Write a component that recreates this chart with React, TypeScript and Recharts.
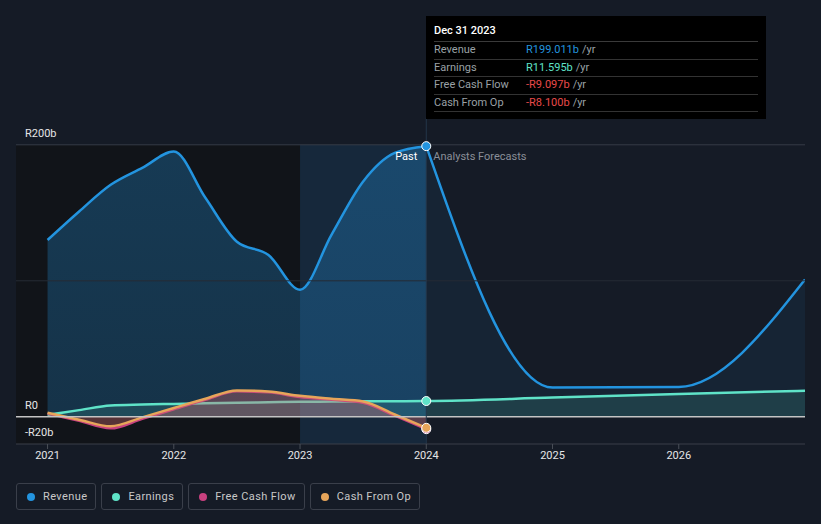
import {
  ComposedChart, Area, XAxis, YAxis, ReferenceArea, ReferenceLine, ReferenceDot,
} from 'recharts'

// ─── Data ─────────────────────────────────────────────────────────────────────

const pastX = [2021, 2021.25, 2021.5, 2021.75, 2022, 2022.25, 2022.5, 2022.75, 2023, 2023.25, 2023.5, 2023.75, 2024]
const revenuePast = [130, 151, 170.6, 183, 195, 161, 128.7, 119, 93.4, 134, 173, 194, 199.011]
const earningsPast = [1.5, 4.9, 8.3, 9, 9.5, 10, 10.4, 10.7, 11, 11.2, 11.4, 11.5, 11.595]
const fcfPast = [2.5, -3, -8.5, -1.5, 5.5, 12.5, 18.7, 18, 14.5, 12.5, 10.3, 0.8, -9.097]
const cfoPast = [3, -2.1, -7, -0.4, 6.5, 13.3, 19.4, 18.6, 15.4, 13.2, 11.3, 1.7, -8.1]

const forecastX = [2025, 2026, 2027]
const revenueForecast = [21.5, 22, 101]
const earningsForecast = [14.1, 16.7, 19.2]

const xTicks = [2021, 2022, 2023, 2024, 2025, 2026]
const yLabelValues = [-20, 0, 200]
const yLabels: Record<number, string> = { [-20]: '-R20b', 0: 'R0', 200: 'R200b' }

const TOOLTIP_ROWS = [
  { label: 'Revenue', value: 'R199.011b', color: '#2394df' },
  { label: 'Earnings', value: 'R11.595b', color: '#5fe3c8' },
  { label: 'Free Cash Flow', value: '-R9.097b', color: '#e84a4a' },
  { label: 'Cash From Op', value: '-R8.100b', color: '#e84a4a' },
]

const LEGEND = [
  { label: 'Revenue', color: '#2394df' },
  { label: 'Earnings', color: '#5fe3c8' },
  { label: 'Free Cash Flow', color: '#c8417f' },
  { label: 'Cash From Op', color: '#e6a55a' },
]

function buildRows() {
  const rows: Record<string, number>[] = pastX.map((x, i) => ({
    x,
    revPast: revenuePast[i],
    earn: earningsPast[i],
    fcf: fcfPast[i],
    cfo: cfoPast[i],
  }))
  rows[rows.length - 1].revFc = revenuePast[revenuePast.length - 1]
  forecastX.forEach((x, i) => {
    rows.push({ x, revFc: revenueForecast[i], earn: earningsForecast[i] })
  })
  return rows
}

const rows = buildRows()
const FONT = 'Roboto, "Open Sans", sans-serif'
const BG = '#151b26'

// ─── Pieces ───────────────────────────────────────────────────────────────────

// y-axis value label, drawn just above its gridline at the left edge
function yLabel(value: number) {
  // eslint-disable-next-line @typescript-eslint/no-explicit-any
  return (props: any) => (
    <text x={25} y={props.viewBox.y - 8} fill="#e6e6e6" fontSize={11} fontFamily={FONT}>
      {yLabels[value]}
    </text>
  )
}

// eslint-disable-next-line @typescript-eslint/no-explicit-any
function NowLabel(props: any) {
  const { viewBox } = props
  const x = viewBox.x
  const y = viewBox.y + 42
  return (
    <g fontFamily={FONT} fontSize={11}>
      <text x={x - 9} y={y} textAnchor="end" fill="#ffffff">Past</text>
      <text x={x + 7} y={y} fill="#8a8f98">Analysts Forecasts</text>
    </g>
  )
}

export default function App() {
  return (
    <div style={{ position: 'absolute', left: 0, top: 0, width: 821, height: 524, background: BG, fontFamily: FONT, overflow: 'hidden' }}>
      <ComposedChart width={821} height={524} data={rows}
        margin={{ top: 117.6, right: 16, bottom: 50, left: 16 }}>
        <defs>
          <linearGradient id="revPastFill" x1="0" y1="0" x2="0" y2="1">
            <stop offset="0%" stopColor="#2394df" stopOpacity={0.3} />
            <stop offset="100%" stopColor="#2394df" stopOpacity={0.24} />
          </linearGradient>
        </defs>

        <ReferenceArea x1={2020.75} x2={2023} y1={-20} y2={200} fill="#111419" fillOpacity={1} stroke="none" />
        <ReferenceArea x1={2023} x2={2024} y1={-20} y2={200} fill="#16283b" fillOpacity={1} stroke="none" />
        <ReferenceLine y={200} stroke="#363b46" />
        <ReferenceLine y={100} stroke="#262b35" />

        <XAxis dataKey="x" type="number" domain={[2020.75, 2027]} ticks={xTicks} allowDataOverflow
          tickFormatter={(v) => String(v)} height={30} tickSize={5}
          tick={{ fill: '#e6e6e6', fontSize: 11, fontFamily: FONT }}
          axisLine={{ stroke: '#3a3f48' }} tickLine={{ stroke: '#4a4f58' }} />
        <YAxis domain={[-20, 220]} hide allowDataOverflow />

        <Area type="monotone" dataKey="revPast" stroke="#2394df" strokeWidth={2.5} fill="url(#revPastFill)"
          fillOpacity={1} dot={false} activeDot={false} isAnimationActive={false} />
        <Area type="monotone" dataKey="revFc" stroke="#2394df" strokeWidth={2.5} fill="#2394df"
          fillOpacity={0.08} dot={false} activeDot={false} isAnimationActive={false} />
        <Area type="monotone" dataKey="earn" stroke="#5fe3c8" strokeWidth={2.5} fill="#5fe3c8"
          fillOpacity={0.14} dot={false} activeDot={false} isAnimationActive={false} />
        <Area type="monotone" dataKey="fcf" stroke="#c8417f" strokeWidth={2.5} fill="#c8417f"
          fillOpacity={0.25} dot={false} activeDot={false} isAnimationActive={false} />
        <Area type="monotone" dataKey="cfo" stroke="#e6a55a" strokeWidth={2.5} fill="#e6a55a"
          fillOpacity={0.15} dot={false} activeDot={false} isAnimationActive={false} />

        <ReferenceLine y={0} stroke="#c4c4c4" strokeWidth={1.5} />
        <ReferenceLine x={2024} stroke="#24364a" label={<NowLabel />} />
        {yLabelValues.map((v) => (
          <ReferenceLine key={v} y={v} stroke="none" label={yLabel(v)} />
        ))}

        <ReferenceDot x={2024} y={revenuePast[12]} r={4.5} fill="#2394df" stroke="#ffffff" strokeWidth={1} />
        <ReferenceDot x={2024} y={earningsPast[12]} r={4.5} fill="#5fe3c8" stroke="#ffffff" strokeWidth={1} />
        <ReferenceDot x={2024} y={fcfPast[12]} r={4.5} fill="#c8417f" stroke="#ffffff" strokeWidth={1} />
        <ReferenceDot x={2024} y={cfoPast[12]} r={4.5} fill="#e6a55a" stroke="#ffffff" strokeWidth={1} />
      </ComposedChart>

      {/* Tooltip box */}
      <div style={{ position: 'absolute', left: 426, top: 16, width: 340, height: 103, background: '#000',
        boxSizing: 'border-box', padding: '7px 8px 0 8px', fontSize: 11 }}>
        <div style={{ color: '#fff', fontWeight: 500, height: 18, lineHeight: '15px', borderBottom: '1px solid #3a3a3a' }}>
          Dec 31 2023
        </div>
        {TOOLTIP_ROWS.map((r) => (
          <div key={r.label} style={{ display: 'flex', height: 17.5, lineHeight: '16px', borderBottom: '1px solid #333',
            boxSizing: 'border-box' }}>
            <span style={{ width: 92, color: '#9aa0a6' }}>{r.label}</span>
            <span style={{ color: r.color }}>{r.value}</span>
            <span style={{ color: '#9aa0a6', marginLeft: 3 }}>/yr</span>
          </div>
        ))}
      </div>

      {/* Legend */}
      <div style={{ position: 'absolute', left: 16, top: 483, display: 'flex', gap: 5 }}>
        {LEGEND.map((l) => (
          <div key={l.label} style={{ display: 'flex', alignItems: 'center', height: 27, boxSizing: 'border-box',
            border: '1px solid #3a3f4a', borderRadius: 3, padding: '0 8px 0 10px', fontSize: 11, color: '#c8c8c8',
            letterSpacing: 0.4 }}>
            <span style={{ width: 8, height: 8, borderRadius: 4, background: l.color, marginRight: 8 }} />
            {l.label}
          </div>
        ))}
      </div>
    </div>
  )
}
